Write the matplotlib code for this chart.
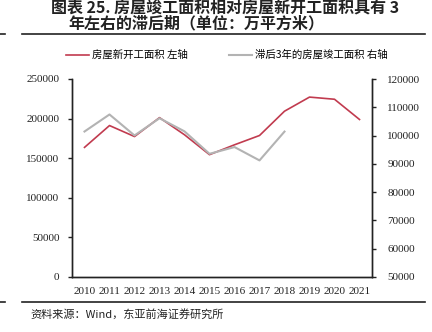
import matplotlib
matplotlib.use("Agg")
import matplotlib.pyplot as plt
from matplotlib.lines import Line2D

plt.rcParams['font.family'] = ['Liberation Serif', 'Noto Sans CJK SC']

years = [2010, 2011, 2012, 2013, 2014, 2015, 2016, 2017, 2018, 2019, 2020, 2021]
# 房屋新开工面积 (万平方米)
new_starts = [163647, 191237, 177334, 201208, 179592, 154454,
              166928, 178654, 209342, 227154, 224433, 198895]
# 房屋竣工面积, shifted back three years (2013-2021)
completed_lag3 = [101435, 107459, 100039, 106128, 101486, 93550,
                  95942, 91218, 101412]

RED = '#C13B4F'
GREY = '#B3B3B3'
CJK = ['Noto Sans CJK SC', 'DejaVu Sans']

fig = plt.figure(figsize=(4.32, 3.32), dpi=100)
ax = fig.add_axes([72 / 432, 1 - 277 / 332, 300 / 432, 198 / 332])
ax2 = ax.twinx()

x = list(range(len(years)))
ax.plot(x, new_starts, color=RED, lw=1.2)
ax2.plot(x[:len(completed_lag3)], completed_lag3, color=GREY, lw=1.5)

ax.set_xlim(-0.5, len(years) - 0.5)
ax.set_ylim(0, 250000)
ax.set_yticks(range(0, 250001, 50000))
ax2.set_ylim(50000, 120000)
ax2.set_yticks(range(50000, 120001, 10000))
ax.set_xticks(x)
ax.set_xticklabels([str(y) for y in years])

for a in (ax, ax2):
    a.spines['top'].set_visible(False)
    for s in a.spines.values():
        s.set_linewidth(1.0)
        s.set_color('#222222')
    a.tick_params(labelsize=8, colors='#222222', width=1.0, length=3)
ax.tick_params(axis='x', length=0, pad=7)
ax.tick_params(axis='y', pad=6)
ax2.tick_params(axis='y', pad=8)
ax2.set_zorder(0)

# title
fig.text(0.52, 1 - 8 / 332, '图表 25. 房屋竣工面积相对房屋新开工面积具有 3',
         ha='center', va='center', fontsize=11.5, fontweight='bold',
         family=CJK, color='#222222')
fig.text(0.455, 1 - 23 / 332, '年左右的滞后期（单位：万平方米）',
         ha='center', va='center', fontsize=11.5, fontweight='bold',
         family=CJK, color='#222222')

# rules above and below the chart
for yy in (34, 302):
    fig.add_artist(Line2D([22 / 432, 425 / 432], [1 - yy / 332] * 2,
                          color='#222222', lw=1.2))
    fig.add_artist(Line2D([0, 5 / 432], [1 - yy / 332] * 2,
                          color='#222222', lw=1.2))

# legend
handles = [Line2D([], [], color=RED, lw=1.2), Line2D([], [], color=GREY, lw=1.5)]
fig.legend(handles, ['房屋新开工面积 左轴', '滞后3年的房屋竣工面积 右轴'],
           loc='center', bbox_to_anchor=(227 / 432, 1 - 55 / 332), ncol=2,
           frameon=False, handlelength=2.2, handletextpad=0.3,
           columnspacing=4.0, prop={'family': CJK, 'size': 7.5})

fig.text(30 / 432, 1 - 314 / 332, '资料来源：Wind，东亚前海证券研究所',
         ha='left', va='center', fontsize=8, family=CJK, color='#222222')

fig.savefig('out.png', dpi=100)
